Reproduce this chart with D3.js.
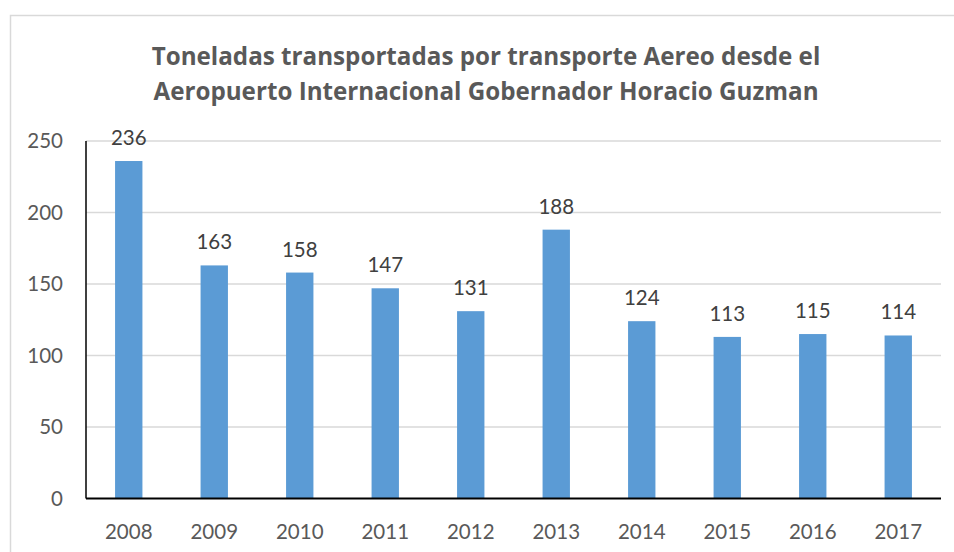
<!DOCTYPE html>
<meta charset="utf-8">
<head>
    <title>Toneladas</title>
    <style>
        body { margin: 0; background: #fff; }
        text { font-family: Lato, "Open Sans", sans-serif; }
    </style>
</head>

<script src="https://d3js.org/d3.v7.min.js"></script>

<div id="dataVis"></div>

<script>

    // data
    var years = ["2008", "2009", "2010", "2011", "2012", "2013", "2014", "2015", "2016", "2017"];
    var tons = [236, 163, 158, 147, 131, 188, 124, 113, 115, 114];
    var yTicks = [0, 50, 100, 150, 200, 250];
    var titleLines = [
        "Toneladas transportadas por transporte Aereo desde el",
        "Aeropuerto Internacional Gobernador Horacio Guzman"
    ];

    var width = 954, height = 552;
    var margin = { top: 141, right: 13, bottom: 53.5, left: 86 };

    var svg = d3.select("#dataVis")
        .append("svg")
        .attr("width", width)
        .attr("height", height);

    // chart frame (runs off the page on the right and bottom)
    svg.append("rect")
        .attr("x", 10.5)
        .attr("y", 15.5)
        .attr("width", 1000)
        .attr("height", 1000)
        .attr("fill", "none")
        .attr("stroke", "#d9d9d9")
        .attr("stroke-width", 1.5);

    // title
    svg.append("g")
        .selectAll("text")
        .data(titleLines)
        .enter()
        .append("text")
        .attr("x", 486)
        .attr("y", function (d, i) { return 65 + i * 35; })
        .attr("text-anchor", "middle")
        .style("font-family", "'Open Sans', sans-serif")
        .style("font-size", "24.2px")
        .style("font-weight", "bold")
        .attr("fill", "#595959")
        .text(function (d) { return d; });

    var x = d3.scaleBand()
        .domain(years)
        .range([margin.left, width - margin.right])
        .paddingInner(0.68)
        .paddingOuter(0.34);

    var y = d3.scaleLinear()
        .domain([0, 250])
        .range([height - margin.bottom, margin.top]);

    // gridlines
    svg.append("g")
        .selectAll("line")
        .data(yTicks.slice(1))
        .enter()
        .append("line")
        .attr("x1", margin.left)
        .attr("x2", width - margin.right)
        .attr("y1", function (d) { return y(d); })
        .attr("y2", function (d) { return y(d); })
        .attr("stroke", "#d9d9d9")
        .attr("stroke-width", 1.5);

    // y tick labels
    svg.append("g")
        .selectAll("text")
        .data(yTicks)
        .enter()
        .append("text")
        .attr("x", 63)
        .attr("y", function (d) { return y(d); })
        .attr("dy", "0.36em")
        .attr("text-anchor", "end")
        .style("font-size", "20.5px")
        .attr("fill", "#595959")
        .text(function (d) { return d; });

    // bars
    svg.append("g")
        .selectAll("rect")
        .data(tons)
        .enter()
        .append("rect")
        .attr("x", function (d, i) { return x(years[i]); })
        .attr("width", x.bandwidth())
        .attr("y", function (d) { return y(d); })
        .attr("height", function (d) { return y(0) - y(d); })
        .attr("fill", "#5b9bd5");

    // value labels
    svg.append("g")
        .selectAll("text")
        .data(tons)
        .enter()
        .append("text")
        .attr("x", function (d, i) { return x(years[i]) + x.bandwidth() / 2; })
        .attr("y", function (d) { return y(d) - 16; })
        .attr("text-anchor", "middle")
        .style("font-size", "20.5px")
        .attr("fill", "#404040")
        .text(function (d) { return d; });

    // x labels
    svg.append("g")
        .selectAll("text")
        .data(years)
        .enter()
        .append("text")
        .attr("x", function (d) { return x(d) + x.bandwidth() / 2; })
        .attr("y", 538.5)
        .attr("text-anchor", "middle")
        .style("font-size", "20.5px")
        .attr("fill", "#595959")
        .text(function (d) { return d; });

    // axes lines
    svg.append("line")
        .attr("x1", margin.left)
        .attr("x2", width - margin.right)
        .attr("y1", y(0))
        .attr("y2", y(0))
        .attr("stroke", "#000")
        .attr("stroke-width", 2);

    svg.append("line")
        .attr("x1", margin.left)
        .attr("x2", margin.left)
        .attr("y1", y(250))
        .attr("y2", y(0))
        .attr("stroke", "#000")
        .attr("stroke-width", 1.5);

</script>
